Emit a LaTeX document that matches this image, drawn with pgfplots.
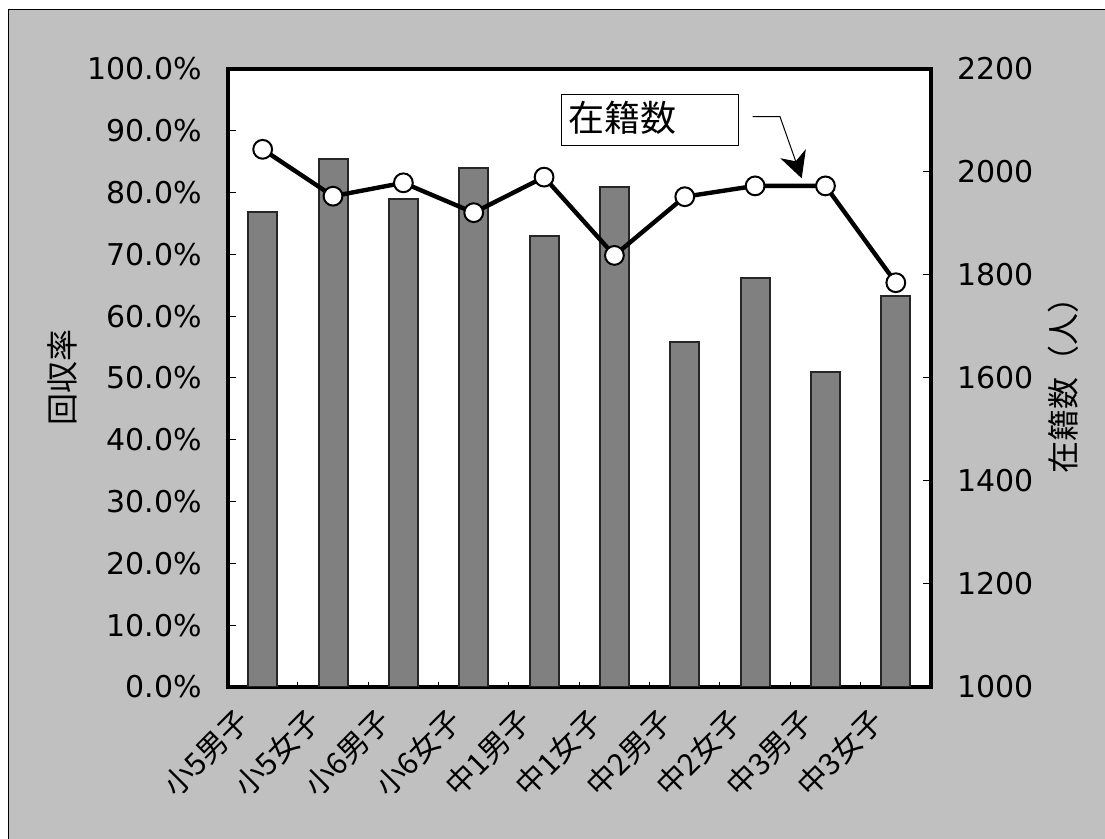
\documentclass[border=0pt]{standalone}
\usepackage{fontspec}
\setmainfont{DejaVu Sans}
\newfontfamily\jp{Noto Sans CJK JP}
\usepackage{pgfplots}
\pgfplotsset{compat=1.18}
\usetikzlibrary{arrows.meta}

\definecolor{bggray}{HTML}{C0C0C0}
\definecolor{bargray}{HTML}{808080}

\begin{document}
\begin{tikzpicture}
\useasboundingbox (0,0) rectangle (552.5pt,419.5pt);
\fill[white] (0,0) rectangle (552.5pt,419.5pt);
\begin{scope}[shift={(0pt,419.5pt)},x=0.5pt,y=-0.5pt]
  \filldraw[fill=bggray, draw=black, line width=0.5pt] (8,10) rectangle (1130,870);
\end{scope}

% 回収率 (bars, left axis)
\begin{axis}[
  at={(113.75pt,76pt)}, anchor=south west,
  scale only axis, width=351.75pt, height=309pt,
  xmin=-0.5, xmax=9.5, ymin=0, ymax=100,
  axis background/.style={fill=white},
  axis line style={line width=2pt},
  ybar, bar width=14.5pt,
  xtick={0,...,9},
  xticklabels={小5男子,小5女子,小6男子,小6女子,中1男子,中1女子,中2男子,中2女子,中3男子,中3女子},
  major x tick style={draw=none},
  minor xtick={0.5,1.5,...,8.5},
  minor tick length=2.5pt,
  minor x tick style={black, line width=0.5pt},
  xtick pos=left,
  ytick={0,10,...,100},
  yticklabels={0.0\%,10.0\%,20.0\%,30.0\%,40.0\%,50.0\%,60.0\%,70.0\%,80.0\%,90.0\%,100.0\%},
  ytick pos=left,
  major tick length=4pt,
  major y tick style={black, line width=0.5pt},
  tick align=inside,
  xticklabel style={font=\jp\fontsize{15}{18}\selectfont, inner sep=0pt,
    xshift=-14pt, yshift=-9pt, rotate=45, anchor=north east},
  yticklabel style={font=\fontsize{15}{18}\selectfont, inner sep=0pt, xshift=-12.5pt},
  ylabel={回収率},
  ylabel style={font=\jp\fontsize{16}{19}\selectfont,
    at={(axis description cs:-0.235,0.5)}, anchor=center},
]
\addplot[fill=bargray, draw=black!85, line width=1pt]
  coordinates {(0,76.9)(1,85.4)(2,79.0)(3,83.9)(4,72.9)(5,80.9)(6,55.9)(7,66.1)(8,51.0)(9,63.3)};
\end{axis}

% 在籍数 (line, right axis)
\begin{axis}[
  at={(113.75pt,76pt)}, anchor=south west,
  scale only axis, width=351.75pt, height=309pt,
  xmin=-0.5, xmax=9.5, ymin=1000, ymax=2200,
  axis y line*=right, axis x line=none,
  axis line style={line width=2pt},
  ytick={1000,1200,...,2200},
  yticklabels={1000,1200,1400,1600,1800,2000,2200},
  major tick length=4pt,
  tick align=inside,
  major y tick style={black, line width=0.5pt},
  yticklabel style={font=\fontsize{15}{18}\selectfont, inner sep=0pt, xshift=13pt},
  ylabel={在籍数（人）},
  ylabel style={font=\jp\fontsize{16}{19}\selectfont,
    at={(axis description cs:1.188,0.5)}, anchor=center},
]
\addplot[black, line width=2.2pt, mark=*, mark size=4.7pt,
  mark options={fill=white, draw=black, line width=1pt}]
  coordinates {(0,2044)(1,1953)(2,1979)(3,1921)(4,1990)(5,1838)(6,1952)(7,1973)(8,1973)(9,1785)};
\end{axis}

% callout
\begin{scope}[shift={(0pt,419.5pt)},x=0.5pt,y=-0.5pt]
  \filldraw[fill=white, draw=black, line width=0.5pt] (561.7,95) rectangle (738.3,146);
  \node[anchor=west, inner sep=0pt, font=\jp\fontsize{18}{22}\selectfont] at (568,118) {在籍数};
  \draw[line width=0.5pt, -{Stealth[length=13pt, width=13.5pt, inset=4pt]}]
    (752.7,116.7) -- (780,116.7) -- (801.7,178.3);
\end{scope}
\end{tikzpicture}
\end{document}
